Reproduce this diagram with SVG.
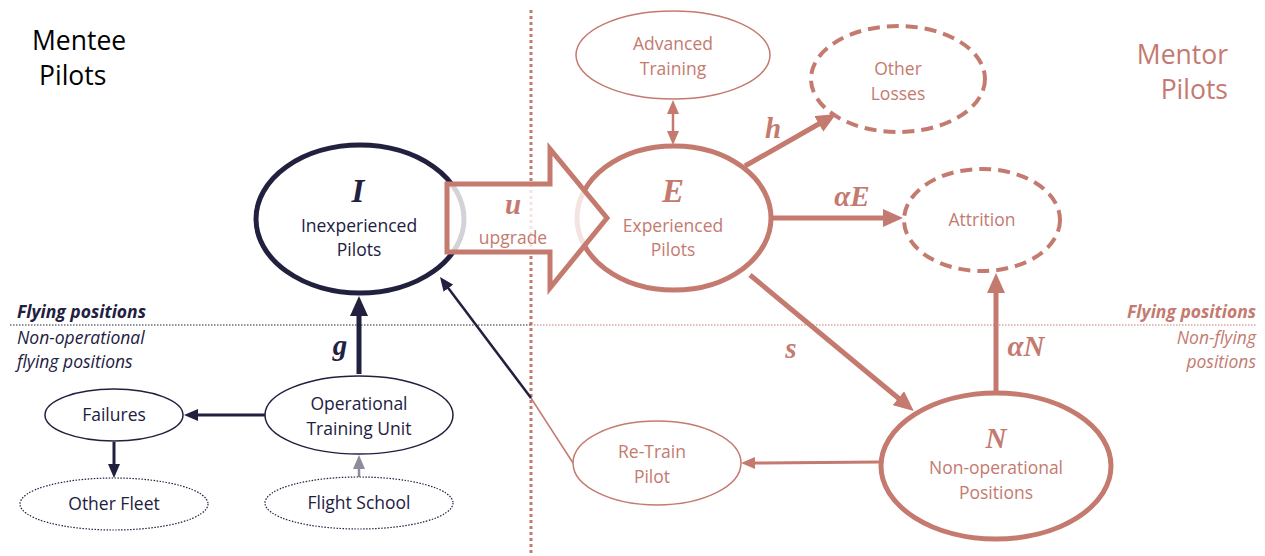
<svg xmlns="http://www.w3.org/2000/svg" width="1265" height="556" viewBox="0 0 1265 556">
<style>
  .t { font-family: "Open Sans", "Noto Sans", sans-serif; font-size: 17.5px; text-anchor: middle; }
  .navy { fill: #22203f; }
  .sal { fill: #c47a6f; }
  .math { font-family: "Liberation Serif", "DejaVu Serif", serif; font-weight: bold; font-style: italic; }
  .nodeN { fill: #ffffff; stroke: #22203f; }
  .nodeS { fill: #ffffff; stroke: #c47a6f; }
  .sec { font-family: "Open Sans", "Noto Sans", sans-serif; font-size: 17.5px; font-style: italic; }
  .big { font-family: "Open Sans", "Noto Sans", sans-serif; font-size: 26.5px; }
</style>
<defs>
  <marker id="bigS" viewBox="0 0 20 18" refX="6" refY="9" markerWidth="20" markerHeight="18" markerUnits="userSpaceOnUse" orient="auto"><path d="M0,0 L20,9 L0,18 z" fill="#c47a6f"/></marker>
  <marker id="bigN" viewBox="0 0 20 18" refX="6" refY="9" markerWidth="20" markerHeight="18" markerUnits="userSpaceOnUse" orient="auto"><path d="M0,0 L20,9 L0,18 z" fill="#22203f"/></marker>
  <marker id="smS" viewBox="0 0 14 12" refX="4" refY="6" markerWidth="14" markerHeight="12" markerUnits="userSpaceOnUse" orient="auto-start-reverse"><path d="M0,0 L14,6 L0,12 z" fill="#c47a6f"/></marker>
  <marker id="smN" viewBox="0 0 14 12" refX="4" refY="6" markerWidth="14" markerHeight="12" markerUnits="userSpaceOnUse" orient="auto"><path d="M0,0 L14,6 L0,12 z" fill="#22203f"/></marker>
  <marker id="smG" viewBox="0 0 14 12" refX="4" refY="6" markerWidth="14" markerHeight="12" markerUnits="userSpaceOnUse" orient="auto"><path d="M0,0 L14,6 L0,12 z" fill="#8d8b9c"/></marker>
</defs>
<rect width="1265" height="556" fill="#ffffff"/>

<!-- section lines and labels -->
<g id="sections">
  <line x1="531" y1="10" x2="531" y2="556" stroke="#c47a6f" stroke-width="3" stroke-dasharray="3,3"/>
  <line x1="10" y1="325" x2="531" y2="325" stroke="#22203f" stroke-width="1" stroke-dasharray="1.5,1.5"/>
  <line x1="531" y1="325" x2="1256" y2="325" stroke="#c47a6f" stroke-width="1" stroke-dasharray="1.5,1.5"/>
  <text class="big" x="32" y="50" style="fill:#000">Mentee</text>
  <text class="big" x="39" y="85" style="fill:#000">Pilots</text>
  <text class="big sal" x="1228" y="64" text-anchor="end">Mentor</text>
  <text class="big sal" x="1228" y="99" text-anchor="end">Pilots</text>
  <text class="sec navy" x="17" y="318" font-weight="bold">Flying positions</text>
  <text class="sec navy" x="17" y="344">Non-operational</text>
  <text class="sec navy" x="17" y="368">flying positions</text>
  <text class="sec sal" x="1256" y="318" font-weight="bold" text-anchor="end">Flying positions</text>
  <text class="sec sal" x="1256" y="344" text-anchor="end">Non-flying</text>
  <text class="sec sal" x="1256" y="368" text-anchor="end">positions</text>
</g>

<!-- connectors -->
<g id="connectors" fill="none">
  <line x1="359" y1="374" x2="359" y2="310" stroke="#22203f" stroke-width="5" marker-end="url(#bigN)"/>
  <line x1="573" y1="463" x2="531" y2="398" stroke="#c47a6f" stroke-width="1.5"/>
  <line x1="531" y1="398" x2="446" y2="285" stroke="#22203f" stroke-width="2.5" marker-end="url(#smN)"/>
  <line x1="265" y1="415" x2="194" y2="415" stroke="#22203f" stroke-width="3" marker-end="url(#smN)"/>
  <line x1="114" y1="442" x2="114" y2="468" stroke="#22203f" stroke-width="3" marker-end="url(#smN)"/>
  <line x1="359" y1="478" x2="359" y2="465" stroke="#8d8b9c" stroke-width="2.5" marker-end="url(#smG)"/>
  <line x1="673" y1="110" x2="673" y2="135" stroke="#c47a6f" stroke-width="2.5" marker-start="url(#smS)" marker-end="url(#smS)"/>
  <line x1="745" y1="166" x2="824" y2="121" stroke="#c47a6f" stroke-width="5" marker-end="url(#bigS)"/>
  <line x1="772" y1="218" x2="889" y2="218" stroke="#c47a6f" stroke-width="5" marker-end="url(#bigS)"/>
  <line x1="750" y1="275" x2="903" y2="402" stroke="#c47a6f" stroke-width="5" marker-end="url(#bigS)"/>
  <line x1="996" y1="392" x2="996" y2="287" stroke="#c47a6f" stroke-width="5" marker-end="url(#bigS)"/>
  <line x1="880" y1="462" x2="751" y2="463" stroke="#c47a6f" stroke-width="3" marker-end="url(#smS)"/>
</g>

<g id="edge-labels">
  <text class="math navy" x="340" y="355" font-size="29" text-anchor="middle">g</text>
  <text class="math sal" x="773" y="138" font-size="29" text-anchor="middle">h</text>
  <text class="math sal" x="852" y="206" font-size="29" text-anchor="middle">αE</text>
  <text class="math sal" x="791" y="358" font-size="29" text-anchor="middle">s</text>
  <text class="math sal" x="1026" y="356" font-size="29" text-anchor="middle">αN</text>
</g>

<g id="node-I">
  <ellipse class="nodeN" cx="360" cy="219" rx="104" ry="74" stroke-width="5"/>
  <text class="math navy" x="358" y="202" font-size="33" text-anchor="middle">I</text>
  <text class="t navy" x="359" y="232">Inexperienced</text>
  <text class="t navy" x="359" y="256">Pilots</text>
</g>

<g id="node-E">
  <ellipse class="nodeS" cx="674" cy="218" rx="97" ry="72" stroke-width="5"/>
  <text class="math sal" x="673" y="202" font-size="33" text-anchor="middle">E</text>
  <text class="t sal" x="673" y="232">Experienced</text>
  <text class="t sal" x="673" y="256">Pilots</text>
</g>

<g id="upgrade-arrow">
  <polygon points="447,184 550,184 550,149 607,218 550,288 550,252 447,252" fill="#ffffff" fill-opacity="0.8" stroke="#c47a6f" stroke-width="5" stroke-linejoin="miter"/>
  <text class="math sal" x="513" y="214" font-size="29" text-anchor="middle">u</text>
  <text class="t sal" x="513" y="244">upgrade</text>
</g>

<g id="node-N">
  <ellipse class="nodeS" cx="996" cy="466" rx="115" ry="73" stroke-width="5"/>
  <text class="math sal" x="996" y="448" font-size="29" text-anchor="middle">N</text>
  <text class="t sal" x="996" y="474">Non-operational</text>
  <text class="t sal" x="996" y="499">Positions</text>
</g>

<g id="node-advanced">
  <ellipse class="nodeS" cx="673" cy="55" rx="97" ry="44" stroke-width="1.5"/>
  <text class="t sal" x="673" y="50">Advanced</text>
  <text class="t sal" x="673" y="75">Training</text>
</g>

<g id="node-otherlosses">
  <ellipse class="nodeS" cx="898" cy="79" rx="87" ry="53" stroke-width="4" stroke-dasharray="12,7"/>
  <text class="t sal" x="898" y="75">Other</text>
  <text class="t sal" x="898" y="100">Losses</text>
</g>

<g id="node-attrition">
  <ellipse class="nodeS" cx="982" cy="220" rx="78" ry="51" stroke-width="4" stroke-dasharray="12,7"/>
  <text class="t sal" x="982" y="226">Attrition</text>
</g>

<g id="node-retrain">
  <ellipse class="nodeS" cx="657" cy="463" rx="84" ry="42" stroke-width="1.5"/>
  <text class="t sal" x="652" y="458">Re-Train</text>
  <text class="t sal" x="652" y="483">Pilot</text>
</g>

<g id="node-otu">
  <ellipse class="nodeN" cx="359" cy="415" rx="94" ry="39" stroke-width="1.5"/>
  <text class="t navy" x="359" y="410">Operational</text>
  <text class="t navy" x="359" y="435">Training Unit</text>
</g>

<g id="node-failures">
  <ellipse class="nodeN" cx="114" cy="415" rx="69" ry="26" stroke-width="1.5"/>
  <text class="t navy" x="114" y="421">Failures</text>
</g>

<g id="node-otherfleet">
  <ellipse class="nodeN" cx="114" cy="504" rx="94" ry="26" stroke-width="1.2" stroke-dasharray="1.5,1.5"/>
  <text class="t navy" x="114" y="510">Other Fleet</text>
</g>

<g id="node-flightschool">
  <ellipse class="nodeN" cx="359" cy="503" rx="94" ry="26" stroke-width="1.2" stroke-dasharray="1.5,1.5"/>
  <text class="t navy" x="359" y="509">Flight School</text>
</g>
</svg>
